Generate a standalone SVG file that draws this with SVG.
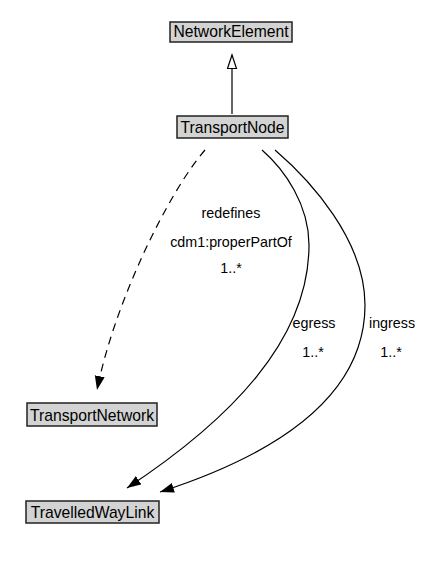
<svg xmlns="http://www.w3.org/2000/svg" width="426" height="563" viewBox="0 0 426 563">
<defs>
<style>
.box{fill:#d3d3d3;stroke:#222;stroke-width:1.5}
.nl{font-family:"Liberation Sans",Arial,sans-serif;font-size:15.7px;fill:#000;text-anchor:middle}
.el{font-family:"Liberation Sans",Arial,sans-serif;font-size:14.3px;fill:#000;text-anchor:middle}
.edge{fill:none;stroke:#000;stroke-width:1.2}
</style>
<marker id="fill" markerUnits="userSpaceOnUse" markerWidth="16" markerHeight="12" refX="14" refY="5" orient="auto">
<path d="M0,0 L14,5 L0,10 z" fill="#000"/>
</marker>
<marker id="hollow" markerUnits="userSpaceOnUse" markerWidth="16" markerHeight="12" refX="14" refY="5" orient="auto">
<path d="M0.5,0.5 L14,5 L0.5,9.5 z" fill="#fff" stroke="#000" stroke-width="1.2"/>
</marker>
</defs>
<rect width="426" height="563" fill="#fff"/>
<g id="connectors">
<line class="edge" x1="232" y1="114" x2="232" y2="55" stroke="#333" marker-end="url(#hollow)"/>
<path class="edge" d="M205,150 C170,190 115,300 97,390" stroke-dasharray="8,6" marker-end="url(#fill)"/>
<path class="edge" d="M262,150 C285,170 309,205 309,245 C309,340 230,420 127,488" marker-end="url(#fill)"/>
<path class="edge" d="M275,150 C310,180 365,240 365,305 C365,390 290,450 160,492" marker-end="url(#fill)"/>
<text class="el" x="231" y="218">redefines</text>
<text class="el" x="231" y="247">cdm1:properPartOf</text>
<text class="el" x="231" y="273">1..*</text>
<text class="el" x="314" y="328">egress</text>
<text class="el" x="313" y="357">1..*</text>
<text class="el" x="392" y="328">ingress</text>
<text class="el" x="391" y="357">1..*</text>
</g>
<g id="NetworkElement">
<rect class="box" x="170" y="22" width="122" height="20"/>
<text class="nl" x="231" y="37">NetworkElement</text>
</g>
<g id="TransportNode">
<rect class="box" x="177" y="116" width="111" height="22"/>
<text class="nl" x="232.5" y="132.5">TransportNode</text>
</g>
<g id="TransportNetwork">
<rect class="box" x="27" y="403" width="130" height="23"/>
<text class="nl" x="92" y="420.5">TransportNetwork</text>
</g>
<g id="TravelledWayLink">
<rect class="box" x="26" y="501" width="133" height="22"/>
<text class="nl" x="92.5" y="518">TravelledWayLink</text>
</g>
</svg>
